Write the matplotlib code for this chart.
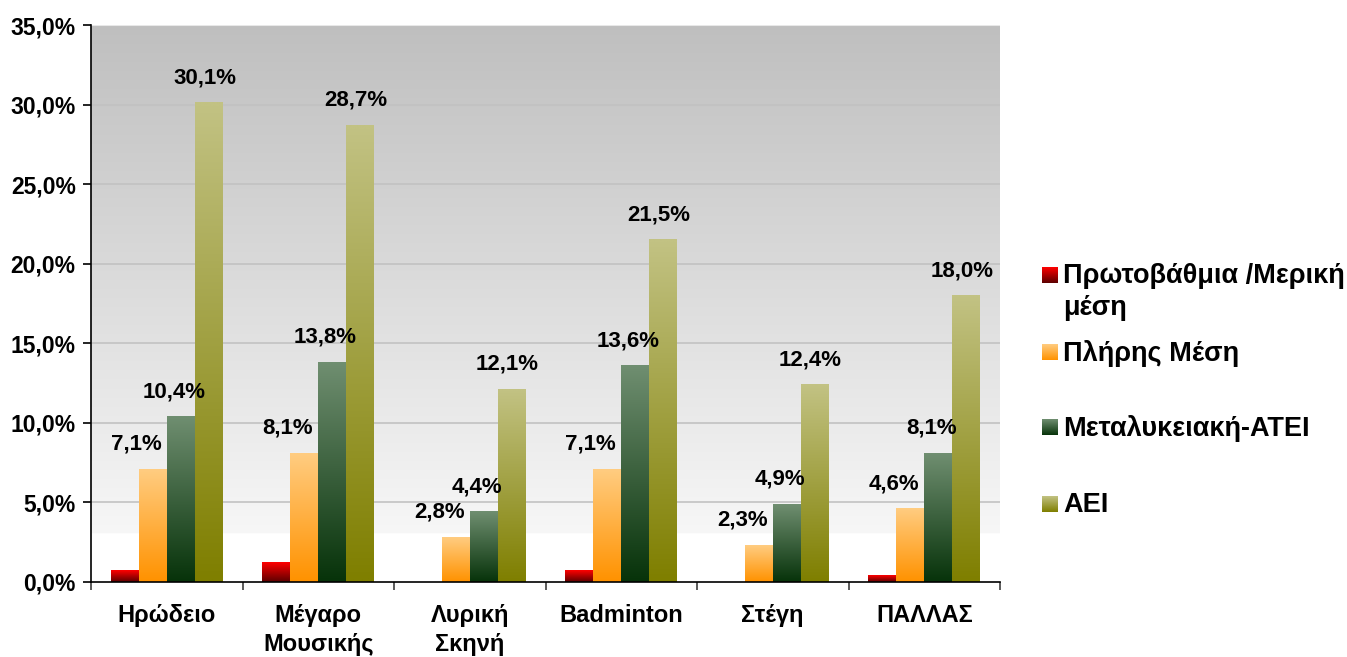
import numpy as np
import matplotlib
matplotlib.use('Agg')
import matplotlib.pyplot as plt
from matplotlib.colors import to_rgb

plt.rcParams['font.family'] = ['Liberation Sans', 'DejaVu Sans']
plt.rcParams['font.weight'] = 'bold'

# ---------------- data ----------------
categories = ['Ηρώδειο', 'Μέγαρο\nΜουσικής', 'Λυρική\nΣκηνή', 'Badminton', 'Στέγη', 'ΠΑΛΛΑΣ']
series_names = ['Πρωτοβάθμια /Μερική\nμέση', 'Πλήρης Μέση', 'Μεταλυκειακή-ΑΤΕΙ', 'ΑΕΙ']
primary_partial = [0.7, 1.2, 0.0, 0.7, 0.0, 0.4]
full_secondary = [7.1, 8.1, 2.8, 7.1, 2.3, 4.6]
post_secondary = [10.4, 13.8, 4.4, 13.6, 4.9, 8.1]
university = [30.1, 28.7, 12.1, 21.5, 12.4, 18.0]
ytick_values = [0, 5, 10, 15, 20, 25, 30, 35]

series_values = [primary_partial, full_secondary, post_secondary, university]
show_labels = [False, True, True, True]
# gradient colours (top, bottom)
gradients = [('#ff0000', '#5c0000'),
             ('#ffcc80', '#ff9200'),
             ('#6f8e70', '#07330a'),
             ('#c2c283', '#7f7f00')]
label_dx_pt = [0, -12, -5, -3]

W, H = 1347, 657
fig = plt.figure(figsize=(W / 100, H / 100), dpi=100)
ax = fig.add_axes([91 / W, 1 - 582 / H, (1000 - 91) / W, (582 - 25) / H])

ymax = 35
ax.set_xlim(-0.5, len(categories) - 0.5)
ax.set_ylim(0, ymax)

# background gradient: grey at top -> white near bottom
ny = 400
yy = np.linspace(0, ymax, ny)
c_top = np.array(to_rgb('#bfbfbf'))
c_low = np.array(to_rgb('#f7f7f7'))
t = np.clip((yy - 3.0) / (ymax - 3.0), 0, 1)
bg = c_low[None, :] * (1 - t[:, None]) + c_top[None, :] * t[:, None]
bg[yy < 3.0] = 1.0
ax.imshow(bg[:, None, :], extent=(-0.5, len(categories) - 0.5, 0, ymax),
          origin='lower', aspect='auto', zorder=0, interpolation='bilinear')

for yv in ytick_values[1:-1]:
    ax.axhline(yv, color='#c2c2c2', lw=1.2, zorder=1)
ax.axhline(ymax, color='#e8e8e8', lw=1.5, zorder=1)

n_series = len(series_values)
bw = 28 / 151.5
x = np.arange(len(categories))


def grad_img(top, bottom, n=64):
    ct = np.array(to_rgb(top))
    cb = np.array(to_rgb(bottom))
    s = np.linspace(0, 1, n)[:, None]
    return (cb * (1 - s) + ct * s)[:, None, :]


for i, (vals, (ctop, cbot)) in enumerate(zip(series_values, gradients)):
    xs = x + (i - (n_series - 1) / 2) * bw
    bars = ax.bar(xs, vals, width=bw, color='none', edgecolor='none', zorder=2,
                  label=series_names[i])
    for b, v in zip(bars, vals):
        if v <= 0:
            continue
        x0 = b.get_x()
        ax.imshow(grad_img(ctop, cbot), extent=(x0, x0 + bw, 0, v), origin='lower',
                  aspect='auto', zorder=2, interpolation='bilinear')
    if show_labels[i]:
        for xi, v in zip(xs, vals):
            ax.annotate(f'{v:.1f}%'.replace('.', ','), (xi, v),
                        xytext=(label_dx_pt[i], 14), textcoords='offset points',
                        ha='center', va='baseline', fontsize=16, fontweight='bold',
                        color='black', zorder=5)

ax.set_xlim(-0.5, len(categories) - 0.5)
ax.set_ylim(0, ymax)

# axes styling
for s in ['top', 'right']:
    ax.spines[s].set_visible(False)
for s in ['left', 'bottom']:
    ax.spines[s].set_color('black')
    ax.spines[s].set_linewidth(1.2)
    ax.spines[s].set_zorder(6)

ax.set_yticks(ytick_values)
ax.set_yticklabels([f'{v:.1f}%'.replace('.', ',') for v in ytick_values],
                   fontsize=16.5, fontweight='bold')
ax.tick_params(axis='y', length=6, width=1.2, pad=5, color='black')

ax.set_xticks(x)
ax.set_xticklabels(categories, fontsize=17, fontweight='bold', linespacing=1.3)
ax.tick_params(axis='x', which='major', length=0, pad=16)
ax.set_xticks(np.arange(-0.5, len(categories) + 0.5, 1.0), minor=True)
ax.tick_params(axis='x', which='minor', length=6, width=1.2, color='#404040')

# ---------------- legend (drawn in pixel coordinates) ----------------
lax = fig.add_axes([0, 0, 1, 1], zorder=10)
lax.set_xlim(0, W)
lax.set_ylim(H, 0)
lax.axis('off')
legend_baselines = [283, 360, 435, 512]
line_gap = 30
sq = 16
for name, (ctop, cbot), yb in zip(series_names, gradients, legend_baselines):
    lax.imshow(grad_img(ctop, cbot), extent=(1042, 1042 + sq, yb, yb - sq),
               origin='lower', aspect='auto', interpolation='bilinear')
    lax.text(1063, yb - 20, name, fontsize=19.5, fontweight='bold', ha='left',
             va='top', color='black', linespacing=1.3)
lax.set_xlim(0, W)
lax.set_ylim(H, 0)

fig.savefig('out.png', dpi=100)
